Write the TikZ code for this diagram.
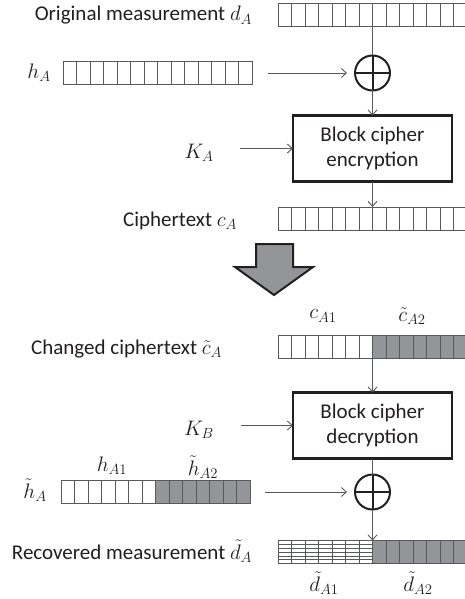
\documentclass[tikz,border=0pt]{standalone}
\usepackage{fix-cm}
\usepackage{fontspec}
\setmainfont{Carlito}
\usetikzlibrary{arrows.meta,calc}

\definecolor{ink}{HTML}{231F20}
\definecolor{wire}{HTML}{58595B}
\definecolor{cellgray}{HTML}{939598}

\tikzset{
  bar/.style={minimum width=189pt, minimum height=23pt, inner sep=0pt, outer sep=0pt},
  cellline/.style={draw=wire, line width=0.9pt},
  hatchline/.style={draw=wire, line width=0.6pt},
  lbl/.style={inner sep=0pt, outer sep=0pt, text=ink},
  xor/.style={circle, draw=ink, line width=2pt, minimum size=35pt, inner sep=0pt, outer sep=0pt},
  xorline/.style={draw=ink, line width=2pt},
  cipher/.style={draw=ink, line width=2.4pt, minimum width=159pt, minimum height=66pt,
                 align=center, inner sep=0pt, outer sep=0pt, text=ink},
  conn/.style={draw=wire, line width=0.9pt},
  flow/.style={conn, -{Straight Barb[length=5pt,width=9pt]}},
  bigarrow/.style={fill=cellgray, draw=ink, line width=2pt, line join=miter}
}

% vertical cell separators and outline of a 14-bit register
\newcommand\bitcells[1]{%
  \foreach \i in {1,...,13}{\draw[cellline] ($(#1.south west)+(\i*13.5,0)$) -- ($(#1.north west)+(\i*13.5,0)$);}%
  \draw[cellline] (#1.south west) rectangle (#1.north east);}
% shaded right half of a register
\newcommand\greyhalf[1]{\fill[cellgray] (#1.south) rectangle (#1.north east);}
% horizontal hatching on the left half of a register
\newcommand\hatchhalf[1]{%
  \foreach \j in {1,...,5}{\draw[hatchline] ($(#1.south west)!\j/6!(#1.north west)$) -- ($(#1.south)!\j/6!(#1.north)$);}}
% exclusive-or symbol
\newcommand\xorplus[1]{\draw[xorline] (#1.north) -- (#1.south) (#1.west) -- (#1.east);}

\begin{document}
\begin{tikzpicture}[x=1pt, y=-1pt, font=\fontsize{21}{25}\selectfont]
\fill[white] (0,0) rectangle (465,599);
\useasboundingbox (0,0) rectangle (465,599);

% ---------- encryption ----------
\node[bar] (dA) at (372.5,14.5) {};
\bitcells{dA}
\node[lbl, anchor=base east] (dAl) at (252,21) {Original measurement $d_A$};

\node[bar] (hA) at (157.5,73) {};
\bitcells{hA}
\node[lbl] (hAl) at (39,73) {$h_A$};

\node[xor] (x1) at (372.5,73) {};
\xorplus{x1}

\node[cipher] (enc) at (372.5,148.5) {Block cipher\\encryption};
\node[lbl] (kA) at (199,153) {$K_A$};

\node[bar] (cA) at (372.5,218.5) {};
\bitcells{cA}
\node[lbl, anchor=base east] (cAl) at (237,226) {Ciphertext $c_A$};

\draw[conn] (dA.south) -- (x1.north);
\draw[flow, shorten <=16pt, shorten >=8pt] (hA.east) -- (x1.west);
\draw[flow] (x1.south) -- (enc.north);
\draw[flow, shorten <=27pt] (kA.east |- enc.west) -- (enc.west);
\draw[flow] (enc.south) -- (cA.north);

% ---------- tampering step ----------
\draw[bigarrow] (256,244) -- (293,244) -- (293,267) -- (313,267) -- (274,295)
                -- (235,267) -- (256,267) -- cycle;

% ---------- decryption ----------
\node[lbl] (c1) at (323,316) {$c_{A1}$};
\node[lbl] (c2) at (412,316) {$\tilde{c}_{A2}$};
\node[bar] (cT) at (372.5,346.5) {};
\greyhalf{cT}
\bitcells{cT}
\node[lbl, anchor=base east] (cTl) at (222,354) {Changed ciphertext $\tilde{c}_A$};

\node[cipher] (dec) at (372.5,425.5) {Block cipher\\decryption};
\node[lbl] (kB) at (199,430) {$K_B$};

\node[lbl] (h1) at (112,466) {$h_{A1}$};
\node[lbl] (h2) at (203,467) {$\tilde{h}_{A2}$};
\node[bar] (hT) at (155.5,492) {};
\greyhalf{hT}
\bitcells{hT}
\node[lbl] (hTl) at (35,490) {$\tilde{h}_A$};

\node[xor] (x2) at (372.5,492) {};
\xorplus{x2}

\node[bar] (dT) at (372.5,552) {};
\greyhalf{dT}
\hatchhalf{dT}
\bitcells{dT}
\node[lbl, anchor=base east] (dTl) at (252,559) {Recovered measurement $\tilde{d}_A$};
\node[lbl] (d1) at (324,583) {$\tilde{d}_{A1}$};
\node[lbl] (d2) at (418,583) {$\tilde{d}_{A2}$};

\draw[flow] (cT.south) -- (dec.north);
\draw[flow, shorten <=27pt] (kB.east |- dec.west) -- (dec.west);
\draw[conn] (dec.south) -- (x2.north);
\draw[flow, shorten <=15pt, shorten >=8pt] (hT.east) -- (x2.west);
\draw[flow] (x2.south) -- (dT.north);
\end{tikzpicture}
\end{document}
